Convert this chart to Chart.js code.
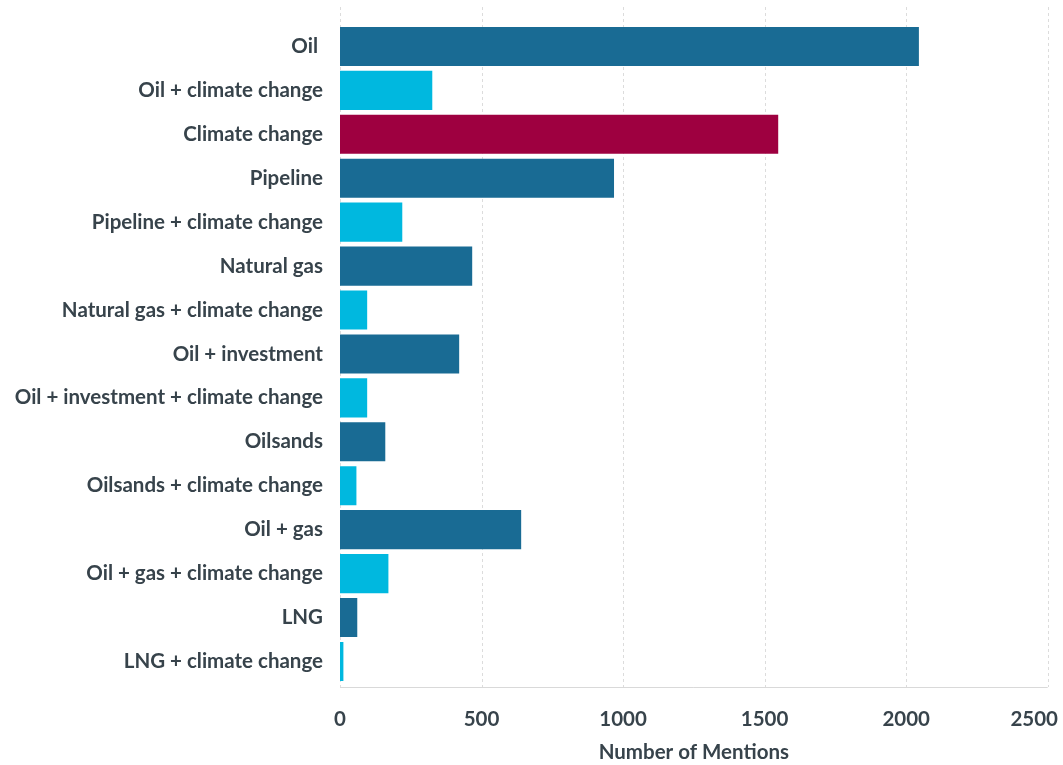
<!DOCTYPE html>
<html>
<head>
<meta charset="utf-8">
<title>Number of Mentions</title>
<script src="https://cdn.jsdelivr.net/npm/chart.js@4"></script>
<style>
    html, body { margin: 0; padding: 0; background: #fff; }
    #wrap { width: 1063px; height: 765px; }
</style>
</head>
<body>
<div id="wrap"><canvas id="grafico-mencoes" width="1063" height="765"></canvas></div>
<script>
// DADOS DO GRÁFICO
const categorias = [
    'Oil ', 'Oil + climate change', 'Climate change', 'Pipeline',
    'Pipeline + climate change', 'Natural gas', 'Natural gas + climate change',
    'Oil + investment', 'Oil + investment + climate change', 'Oilsands',
    'Oilsands + climate change', 'Oil + gas', 'Oil + gas + climate change',
    'LNG', 'LNG + climate change'
];
const mencoes = [2045, 326, 1548, 968, 220, 467, 96, 421, 96, 160, 58, 640, 171, 61, 12];
// tipo de cada barra: 'b' = termo, 'c' = termo + climate change, 'v' = climate change
const tipos = ['b', 'c', 'v', 'b', 'c', 'b', 'c', 'b', 'c', 'b', 'c', 'b', 'c', 'b', 'c'];
const ticksX = [0, 500, 1000, 1500, 2000, 2500];

const cores = { b: '#196b94', c: '#00b8df', v: '#9e0040' };
const corTexto = '#37434b';
const fonte = 'Lato, "Open Sans", sans-serif';
const tamanho = 20.5;

// grade pontilhada, linha do eixo e rótulos do eixo x
const gradeX = {
    id: 'gradeX',
    beforeDatasetsDraw(chart) {
        const ctx = chart.ctx;
        const x = chart.scales.x;
        ctx.save();
        ctx.strokeStyle = '#dcdcdc';
        ctx.lineWidth = 1;
        ctx.setLineDash([3, 3]);
        ticksX.forEach(v => {
            const px = Math.round(x.getPixelForValue(v)) + 0.5;
            ctx.beginPath();
            ctx.moveTo(px, 7);
            ctx.lineTo(px, 687);
            ctx.stroke();
        });
        ctx.setLineDash([]);
        ctx.strokeStyle = '#d9d9d9';
        ctx.beginPath();
        ctx.moveTo(x.left, 687.5);
        ctx.lineTo(x.right, 687.5);
        ctx.stroke();
        ctx.restore();
    },
    afterDraw(chart) {
        const ctx = chart.ctx;
        const x = chart.scales.x;
        ctx.save();
        ctx.font = 'bold ' + tamanho + 'px ' + fonte;
        ctx.fillStyle = corTexto;
        ctx.textBaseline = 'middle';
        ctx.textAlign = 'center';
        ticksX.forEach(v => {
            const w = ctx.measureText(String(v)).width;
            let px = x.getPixelForValue(v);
            if (px + w / 2 > 1058) px = 1058 - w / 2;
            ctx.fillText(String(v), px, 719);
        });
        ctx.restore();
    }
};

function gerarGraficoMencoes() {
    const ctx = document.getElementById('grafico-mencoes').getContext('2d');

    const data = {
        labels: categorias,
        datasets: [{
            label: 'Number of Mentions',
            data: mencoes,
            backgroundColor: tipos.map(t => cores[t]),
            barPercentage: 0.89,
            categoryPercentage: 1.0
        }]
    };

    const config = {
        type: 'bar',
        data: data,
        options: {
            indexAxis: 'y',
            responsive: false,
            animation: false,
            layout: { padding: { top: 24.5, right: 15.3, bottom: 0, left: 0 } },
            plugins: {
                legend: { display: false },
                tooltip: { enabled: false }
            },
            scales: {
                x: {
                    min: 0,
                    max: 2500,
                    grid: { display: false, drawTicks: false },
                    border: { display: false },
                    ticks: { display: false, stepSize: 500 },
                    title: {
                        display: true,
                        text: 'Number of Mentions',
                        color: corTexto,
                        font: { family: fonte, size: tamanho, weight: 'bold' },
                        padding: { top: 57, bottom: 0 }
                    }
                },
                y: {
                    grid: { display: false, drawTicks: false },
                    border: { display: false },
                    ticks: {
                        color: corTexto,
                        padding: 17,
                        font: { family: fonte, size: tamanho, weight: 'bold' }
                    },
                    afterFit(scale) {
                        scale.width = 340;
                        scale.paddingTop = 0;
                        scale.paddingBottom = 0;
                    }
                }
            }
        },
        plugins: [gradeX]
    };

    new Chart(ctx, config);
}

gerarGraficoMencoes();
</script>
</body>
</html>
